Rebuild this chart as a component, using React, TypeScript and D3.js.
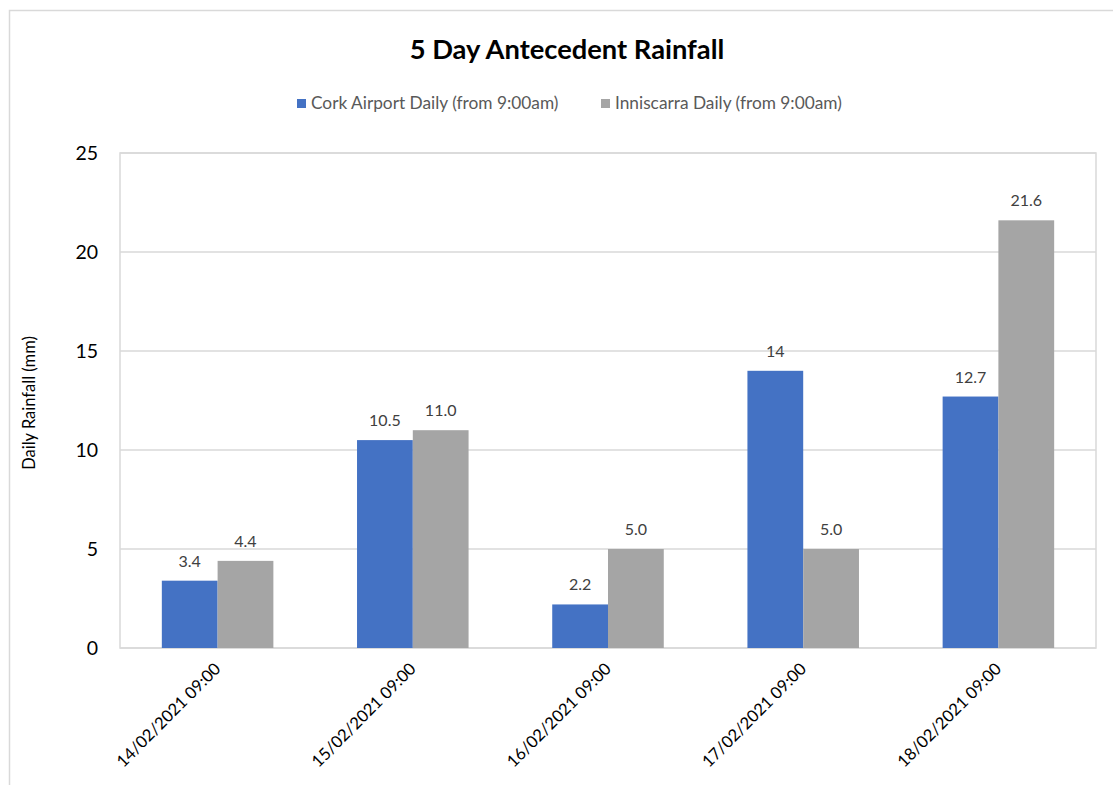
import React from "react";
import * as d3 from "d3";

const categories = [
  "14/02/2021 09:00",
  "15/02/2021 09:00",
  "16/02/2021 09:00",
  "17/02/2021 09:00",
  "18/02/2021 09:00",
];
const seriesNames = ["Cork Airport Daily (from 9:00am)", "Inniscarra Daily (from 9:00am)"];
const corkValues = [3.4, 10.5, 2.2, 14, 12.7];
const inniscarraValues = [4.4, 11.0, 5.0, 5.0, 21.6];
const corkLabels = ["3.4", "10.5", "2.2", "14", "12.7"];
const inniscarraLabels = ["4.4", "11.0", "5.0", "5.0", "21.6"];
const yTicks = [0, 5, 10, 15, 20, 25];
const colors = ["#4472C4", "#A5A5A5"];

const FONT = "Lato, 'Open Sans', sans-serif";

export default function App() {
  const W = 1113;
  const H = 785;
  const left = 120;
  const right = 1096;
  const top = 153;
  const bottom = 648;

  const x = d3.scaleBand<string>().domain(categories).range([left, right]).padding(0);
  const band = x.bandwidth();
  const gapHalf = (band * 0.75) / 3.5;
  const x1 = d3.scaleBand<number>().domain([0, 1]).range([gapHalf, band - gapHalf]).padding(0);
  const y = d3.scaleLinear().domain([0, 25]).range([bottom, top]);

  const series = [
    { values: corkValues, labels: corkLabels },
    { values: inniscarraValues, labels: inniscarraLabels },
  ];

  return (
    <svg width={W} height={H} style={{ position: "absolute", left: 0, top: 0, background: "#fff" }} fontFamily={FONT}>
      <rect x={9.5} y={10.5} width={1120} height={800} fill="#fff" stroke="#d9d9d9" strokeWidth={1.5} />
      <text x={567} y={59} textAnchor="middle" fontSize={27.3} fontWeight={700} fill="#000">
        5 Day Antecedent Rainfall
      </text>
      {/* legend */}
      {seriesNames.map((n, i) => {
        const lx = i === 0 ? 297 : 601;
        return (
          <g key={n}>
            <rect x={lx} y={99} width={9} height={9} fill={colors[i]} />
            <text x={lx + 14} y={109} fontSize={17.3} fill="#595959">
              {n}
            </text>
          </g>
        );
      })}
      {/* gridlines */}
      {yTicks.map((t) => (
        <line key={t} x1={left} x2={right} y1={y(t)} y2={y(t)} stroke="#d9d9d9" strokeWidth={1.5} />
      ))}
      <rect x={left} y={top} width={right - left} height={bottom - top} fill="none" stroke="#d9d9d9" strokeWidth={1.5} />
      {/* y tick labels */}
      {yTicks.map((t) => (
        <text key={t} x={98} y={y(t)} dy="0.35em" textAnchor="end" fontSize={19.5} fill="#000">
          {t}
        </text>
      ))}
      <text transform={`translate(35,403) rotate(-90)`} textAnchor="middle" fontSize={16.5} fill="#000">
        Daily Rainfall (mm)
      </text>
      {/* bars */}
      {categories.map((c, ci) => (
        <g key={c}>
          {series.map((s, si) => {
            const bx = (x(c) as number) + (x1(si) as number);
            const bw = x1.bandwidth();
            const v = s.values[ci];
            return (
              <g key={si}>
                <rect x={bx} y={y(v)} width={bw} height={y(0) - y(v)} fill={colors[si]} />
                <text x={bx + bw / 2} y={y(v) - 14} textAnchor="middle" fontSize={16} fill="#404040">
                  {s.labels[ci]}
                </text>
              </g>
            );
          })}
        </g>
      ))}
      {/* x labels */}
      {categories.map((c) => {
        const cx = (x(c) as number) + band / 2 + 4;
        return (
          <text key={c} transform={`translate(${cx},670) rotate(-45)`} textAnchor="end" fontSize={16.6} fill="#000">
            {c}
          </text>
        );
      })}
    </svg>
  );
}
